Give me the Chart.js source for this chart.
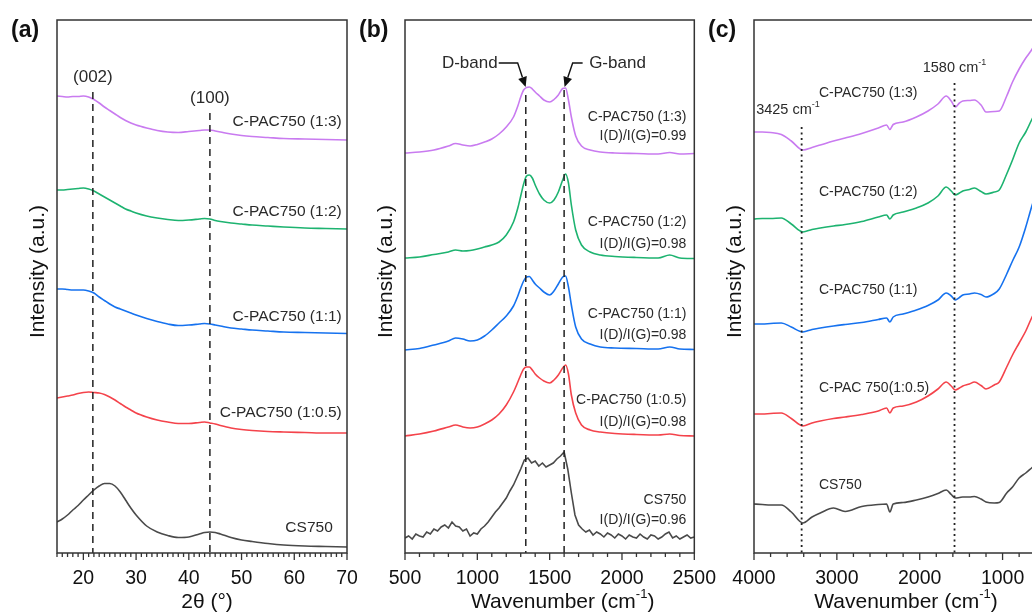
<!DOCTYPE html>
<html>
<head>
<meta charset="utf-8">
<script src="https://cdn.jsdelivr.net/npm/chart.js@4.4.1/dist/chart.umd.min.js"></script>
<style>
  html, body { margin: 0; padding: 0; background: #fff; overflow: hidden; }
  #wrap { position: relative; width: 1032px; height: 615px; overflow: hidden; }
  .panel { position: absolute; top: 0; width: 380px; height: 615px; }
</style>
</head>
<body>
<div id="wrap">
  <div class="panel" style="left:0"><canvas id="xrdChart"></canvas></div>
  <div class="panel" style="left:350px"><canvas id="ramanChart"></canvas></div>
  <div class="panel" style="left:700px"><canvas id="ftirChart"></canvas></div>
</div>
<script>
// ---- data (intensity in arbitrary units) ----
const sampleNames = ['C-PAC750 (1:3)', 'C-PAC750 (1:2)', 'C-PAC750 (1:1)', 'C-PAC750 (1:0.5)', 'CS750'];
const ftirNames = ['C-PAC750 (1:3)', 'C-PAC750 (1:2)', 'C-PAC750 (1:1)', 'C-PAC 750(1:0.5)', 'CS750'];
const ramanRatios = ['0.99', '0.98', '0.98', '0.98', '0.96'];

// (a) XRD
const xrdAngle = [15, 16, 17, 18, 19, 20, 21, 22, 23, 24, 25, 26, 27, 28, 29, 30, 32, 34, 36, 38, 40, 42, 43, 44, 45, 46, 48, 50, 52, 55, 58, 62, 66, 70];
const xrd13 = [457, 456.5, 456, 456.5, 456.5, 457, 456, 453.5, 450, 446, 442.5, 439, 435.5, 432.5, 430, 428, 425, 422.5, 421, 420.5, 421.5, 422.5, 423, 423, 422, 421, 419, 417.5, 416.5, 415.5, 414.5, 414, 413.5, 413];
const xrd12 = [363, 363, 363.5, 364, 364.5, 365, 364, 362, 359, 356, 353, 350, 347, 344, 342, 340, 337, 335, 333.5, 332.5, 333, 334, 334.5, 334, 332.5, 331.5, 330, 329, 328, 327, 326, 325, 324.5, 324];
const xrd11 = [264, 264, 263.5, 263, 263, 263, 262, 260, 256, 252.5, 249, 246, 244, 242, 240, 238, 234.5, 231.5, 229, 227.5, 228, 229, 229.5, 229, 228, 227, 225, 224, 223, 222, 221, 220.5, 220, 219.5];
const xrd105 = [155, 156, 157, 158, 159.5, 160.5, 161, 160.5, 160, 158.5, 156, 153, 149.5, 146, 143, 140, 136, 133, 131, 129.5, 129.5, 130.5, 131, 130, 129, 127.5, 125, 123.5, 122.5, 121.5, 121, 120.5, 120, 120];
const xrdCS = [31, 34, 38, 43, 47.5, 53, 58, 63, 67, 69.5, 69.5, 67, 61, 53, 45, 38, 27, 21, 17.5, 15.5, 16, 19, 20.5, 21, 20.5, 19, 15.5, 13, 11.5, 9.5, 8, 7, 6.5, 6];
const xrdTicks = [20, 30, 40, 50, 60, 70];

// (b) Raman
const ramanShift = [500, 600, 700, 800, 850, 900, 950, 1000, 1050, 1100, 1150, 1200, 1250, 1280, 1300, 1320, 1340, 1360, 1380, 1400, 1430, 1460, 1500, 1530, 1560, 1590, 1610, 1630, 1650, 1680, 1720, 1780, 1850, 1950, 2100, 2250, 2330, 2400, 2500];
const raman13 = [400, 401, 403, 407, 409.5, 408, 407, 408.5, 411, 414, 419, 426, 436, 447, 456, 463, 465.5, 466, 464, 461, 457, 453, 451, 453.5, 458, 464.5, 465, 453, 436, 417, 407, 403, 401, 400, 399.5, 399, 400.5, 399, 399.5];
const raman12 = [295, 296, 298.5, 301, 303, 302, 302.5, 304, 306, 308, 311, 318, 331, 345, 357, 369, 377, 378, 375, 368, 359, 353, 350, 353, 361, 373, 379, 370, 348, 323, 308, 301, 298, 296.5, 295.5, 295, 298, 295, 294.5];
const raman11 = [203, 204.5, 208, 212, 215, 214, 212, 213, 217, 223, 230, 237, 247, 257, 265, 272, 276, 276.5, 273, 269, 265, 261, 258, 262, 269, 276, 277, 266, 248, 226, 214, 209, 206, 205, 204.5, 204, 206, 204, 203.5];
const raman105 = [117, 119, 122, 126, 128, 126, 125, 126, 129, 133, 139, 148, 161, 171, 178, 184, 186, 186, 183, 179, 175, 172, 170, 173, 178, 185, 188, 179, 158, 140, 128, 123, 121, 119.5, 118.5, 118, 119, 117.5, 117];
const ramanShiftCS = [500, 525, 550, 575, 600, 625, 650, 675, 700, 725, 750, 775, 800, 825, 850, 875, 900, 925, 950, 975,
  1000, 1025, 1050, 1075, 1100, 1125, 1150, 1175, 1200, 1225, 1250, 1275, 1300, 1325, 1350, 1375, 1400, 1425, 1450, 1475,
  1500, 1525, 1550, 1575, 1600, 1625, 1650, 1675, 1700, 1725, 1750, 1775, 1800, 1825, 1850, 1875, 1900, 1925, 1950, 1975,
  2000, 2025, 2050, 2075, 2100, 2125, 2150, 2175, 2200, 2225, 2250, 2275, 2300, 2325, 2350, 2375, 2400, 2425, 2450, 2475, 2500];
const ramanCS = [15, 17, 14, 19, 17, 16, 21, 19, 24, 22, 26, 28, 25, 31, 27, 26, 22, 24, 17, 20,
  19, 24, 27, 31, 36, 41, 45, 50, 55, 62, 68, 76, 84, 93, 95, 90, 92, 87, 90, 86,
  88, 90, 94, 97, 101, 84, 60, 38, 28, 24, 21, 23, 18, 21, 19, 16, 20, 18, 15, 19,
  17, 14, 18, 16, 15, 19, 16, 14, 18, 17, 14, 16, 19, 21, 15, 17, 14, 16, 18, 15, 16];
const ramanTicks = [500, 1000, 1500, 2000, 2500];

// (c) FTIR
const ftirWave = [4000, 3900, 3800, 3670, 3550, 3410, 3300, 3200, 3040, 2900, 2700, 2500, 2400, 2360, 2320, 2200, 2040, 1900, 1780, 1680, 1620, 1570, 1520, 1480, 1400, 1340, 1260, 1200, 1100, 1040, 950, 880, 800, 720, 650, 580, 500];
const ftir13 = [421, 421, 420.5, 418.5, 412, 403, 405.5, 408, 412, 415, 419.5, 425, 428, 423.5, 428.5, 431, 436, 442, 449, 457, 452, 446, 450, 452, 452.5, 453, 448, 441, 441.5, 442, 457, 471, 484, 495, 503, 513, 523];
const ftir12 = [334, 334.5, 334.5, 335, 329, 321, 323.5, 325, 327, 328.5, 331.5, 336, 338, 334, 338, 341, 345, 350, 357, 366, 362, 358, 360, 362, 363.5, 365, 361.5, 359, 361, 363, 379, 393, 410, 421, 433, 444, 455];
const ftir11 = [229, 229, 229.5, 230, 226, 221, 223.5, 225, 227, 228.5, 230.5, 233.5, 235, 231, 236, 239, 243, 247.5, 253, 260, 257, 253, 255.5, 258, 259, 260, 258.5, 256, 259.5, 264, 279, 292, 306, 326, 346, 364, 384];
const ftir105 = [139, 139, 139.5, 140, 134.5, 127, 130, 132, 134.5, 136, 138.5, 142, 145, 140, 145, 147, 151, 157, 164, 171, 167, 163, 165, 167, 169, 171, 167.5, 164, 168, 171, 186, 198, 210, 222, 235, 246, 258];
const ftirCS = [49, 48.5, 48, 48, 41, 30, 36, 40, 45, 41.5, 46.5, 48.5, 49, 41, 49, 50.5, 53, 56, 59.5, 63, 58.5, 55, 55.5, 56, 56, 56.5, 54, 51, 50, 50.5, 60, 66, 75, 80, 85, 90, 96];
const ftirTicks = [4000, 3000, 2000, 1000];

// ---- styling ----
const FONT = '"Liberation Sans", Arial, Helvetica, sans-serif';
const COLORS = ['#c97bf0', '#1db370', '#1672ef', '#f4434b', '#4a4a4a'];
Chart.defaults.font.family = FONT;
Chart.defaults.animation = false;

function pts(xs, ys) {
    return xs.map((x, i) => ({ x: x, y: ys[i] }));
}

function drawRich(ctx, parts, x, y, align, size) {
    // parts starting with '^' are drawn as superscript
    const segs = parts.map(p => p.startsWith('^')
        ? { t: p.slice(1), s: size * 0.62, up: size * 0.36 }
        : { t: p, s: size, up: 0 });
    let total = 0;
    segs.forEach(g => { ctx.font = g.s + 'px ' + FONT; g.w = ctx.measureText(g.t).width; total += g.w; });
    let cx = align === 'center' ? x - total / 2 : align === 'right' ? x - total : x;
    ctx.textAlign = 'left';
    ctx.textBaseline = 'middle';
    segs.forEach(g => { ctx.font = g.s + 'px ' + FONT; ctx.fillText(g.t, cx, y - g.up); cx += g.w; });
}

const decor = {
    id: 'decor',
    afterDatasetsDraw(chart, args, o) {
        const { ctx, chartArea: a } = chart;
        const x = chart.scales.x, y = chart.scales.y;
        ctx.save();

        // guide lines
        (o.guides || []).forEach(g => {
            const px = x.getPixelForValue(g.x);
            ctx.beginPath();
            ctx.setLineDash(g.dash);
            ctx.lineWidth = g.width;
            ctx.strokeStyle = '#222';
            ctx.moveTo(px, y.getPixelForValue(g.top));
            ctx.lineTo(px, a.bottom);
            ctx.stroke();
        });
        ctx.setLineDash([]);

        // arrows
        (o.arrows || []).forEach(ar => {
            const p = ar.map(q => [x.getPixelForValue(q[0]), y.getPixelForValue(q[1])]);
            ctx.beginPath();
            ctx.lineWidth = 1.4;
            ctx.strokeStyle = '#111';
            ctx.moveTo(p[0][0], p[0][1]);
            for (let i = 1; i < p.length - 1; i++) ctx.lineTo(p[i][0], p[i][1]);
            const end = p[p.length - 1], prev = p[p.length - 2];
            const ang = Math.atan2(end[1] - prev[1], end[0] - prev[0]);
            const bx = end[0] - 10 * Math.cos(ang), by = end[1] - 10 * Math.sin(ang);
            ctx.lineTo(bx, by);
            ctx.stroke();
            ctx.beginPath();
            ctx.fillStyle = '#111';
            ctx.moveTo(end[0], end[1]);
            ctx.lineTo(bx + 4.5 * Math.sin(ang), by - 4.5 * Math.cos(ang));
            ctx.lineTo(bx - 4.5 * Math.sin(ang), by + 4.5 * Math.cos(ang));
            ctx.closePath();
            ctx.fill();
        });

        // frame
        ctx.lineWidth = 1.5;
        ctx.strokeStyle = '#333';
        ctx.strokeRect(a.left, a.top, a.right - a.left, a.bottom - a.top);

        // major + minor ticks
        const lo = Math.min(x.min, x.max), hi = Math.max(x.min, x.max);
        const start = Math.ceil(lo / o.minorStep) * o.minorStep;
        ctx.lineWidth = 1.3;
        for (let v = start; v <= hi + 1e-6; v += o.minorStep) {
            const px = x.getPixelForValue(v);
            const major = o.majorTicks.some(m => Math.abs(m - v) < 1e-6);
            ctx.beginPath();
            ctx.moveTo(px, a.bottom);
            ctx.lineTo(px, a.bottom + (major ? 7 : 4));
            ctx.stroke();
        }

        // notes inside the plot
        ctx.fillStyle = '#2a2a2a';
        (o.notes || []).forEach(n => drawRich(ctx, n.parts, x.getPixelForValue(n.x), y.getPixelForValue(n.y), n.align, n.size));

        // axis titles
        ctx.fillStyle = '#111';
        drawRich(ctx, o.xTitle, (a.left + a.right) / 2 + o.xTitleShift, 602, 'center', 21);
        ctx.save();
        ctx.translate(a.left - 19, (a.top + a.bottom) / 2 - 15);
        ctx.rotate(-Math.PI / 2);
        drawRich(ctx, ['Intensity (a.u.)'], 0, 0, 'center', 21);
        ctx.restore();

        // panel letter
        ctx.font = 'bold 23px ' + FONT;
        ctx.textAlign = 'left';
        ctx.textBaseline = 'middle';
        ctx.fillText(o.panel, a.left - 46, 31);
        ctx.restore();
    }
};

function makeChart(id, datasets, xOpts, padLeft, padRight, decorOpts) {
    return new Chart(document.getElementById(id), {
        type: 'line',
        data: { datasets: datasets },
        options: {
            responsive: true,
            maintainAspectRatio: false,
            devicePixelRatio: 1,
            layout: { padding: { left: padLeft, right: padRight, top: 20, bottom: 0 } },
            plugins: { legend: { display: false }, tooltip: { enabled: false }, decor: decorOpts },
            elements: { point: { radius: 0 } },
            scales: {
                x: Object.assign({
                    type: 'linear',
                    afterFit: s => { s.height = 62; },
                    grid: { display: false, drawTicks: false },
                    border: { display: false },
                    ticks: { padding: 14, color: '#111', font: { size: 19.5 }, maxRotation: 0, autoSkip: false, callback: v => String(v) }
                }, xOpts),
                y: { display: false, min: 0, max: 533 }
            }
        },
        plugins: [decor]
    });
}

function series(xs, ysList, smooth) {
    return ysList.map((ys, i) => ({
        data: pts(xs, ys),
        borderColor: COLORS[i],
        borderWidth: 1.6,
        cubicInterpolationMode: smooth ? 'monotone' : 'default',
        tension: 0
    }));
}

// (a) XRD
makeChart('xrdChart', series(xrdAngle, [xrd13, xrd12, xrd11, xrd105, xrdCS], true), {
    min: 15, max: 70,
    afterBuildTicks: s => { s.ticks = xrdTicks.map(v => ({ value: v })); }
}, 57, 33, {
    panel: '(a)', minorStep: 1, majorTicks: xrdTicks, xTitle: ['2\u03b8 (\u00b0)'], xTitleShift: 5,
    guides: [{ x: 21.8, top: 461, dash: [7, 5], width: 1.5 }, { x: 44, top: 440, dash: [7, 5], width: 1.5 }],
    notes: [
        { parts: ['(002)'], x: 21.8, y: 476, align: 'center', size: 17 },
        { parts: ['(100)'], x: 44, y: 455, align: 'center', size: 17 },
        { parts: [sampleNames[0]], x: 69, y: 431, align: 'right', size: 15.5 },
        { parts: [sampleNames[1]], x: 69, y: 341, align: 'right', size: 15.5 },
        { parts: [sampleNames[2]], x: 69, y: 236, align: 'right', size: 15.5 },
        { parts: [sampleNames[3]], x: 69, y: 140, align: 'right', size: 15.5 },
        { parts: [sampleNames[4]], x: 67.3, y: 25, align: 'right', size: 15.5 }
    ]
});

// (b) Raman
const ramanSets = series(ramanShift, [raman13, raman12, raman11, raman105], true);
ramanSets.push({ data: pts(ramanShiftCS, ramanCS), borderColor: COLORS[4], borderWidth: 1.6, tension: 0 });
const ramanNameY = [436, 331, 239, 153, 53];
const ramanRatioY = [417, 309, 218, 131, 33];
const ramanNotes = [
    { parts: ['D-band'], x: 948, y: 490, align: 'center', size: 17 },
    { parts: ['G-band'], x: 1969, y: 490, align: 'center', size: 17 }
];
sampleNames.forEach((n, i) => {
    ramanNotes.push({ parts: [n], x: 2445, y: ramanNameY[i], align: 'right', size: 14 });
    ramanNotes.push({ parts: ['I(D)/I(G)=' + ramanRatios[i]], x: 2445, y: ramanRatioY[i], align: 'right', size: 14 });
});
makeChart('ramanChart', ramanSets, {
    min: 500, max: 2500,
    afterBuildTicks: s => { s.ticks = ramanTicks.map(v => ({ value: v })); }
}, 55, 35, {
    panel: '(b)', minorStep: 100, majorTicks: ramanTicks, xTitle: ['Wavenumber (cm', '^-1', ')'], xTitleShift: 13,
    guides: [{ x: 1335, top: 458, dash: [7, 5], width: 1.5 }, { x: 1600, top: 463, dash: [7, 5], width: 1.5 }],
    arrows: [
        [[1148, 490], [1279, 490], [1334, 466]],
        [[1728, 490], [1659, 490], [1603, 466]]
    ],
    notes: ramanNotes
});

// (c) FTIR
const ftirNameY = [460, 361, 263, 165, 68];
const ftirNotes = [
    { parts: ['1580 cm', '^-1'], x: 1580, y: 485, align: 'center', size: 14.5 },
    { parts: ['3425 cm', '^-1'], x: 3590, y: 443, align: 'center', size: 14.5 }
];
ftirNames.forEach((n, i) => ftirNotes.push({ parts: [n], x: 3217, y: ftirNameY[i], align: 'left', size: 14 }));
makeChart('ftirChart', series(ftirWave, [ftir13, ftir12, ftir11, ftir105, ftirCS], true), {
    min: 500, max: 4000, reverse: true,
    afterBuildTicks: s => { s.ticks = ftirTicks.map(v => ({ value: v })); }
}, 54, 36, {
    panel: '(c)', minorStep: 200, majorTicks: ftirTicks, xTitle: ['Wavenumber (cm', '^-1', ')'], xTitleShift: 7,
    guides: [{ x: 3425, top: 426, dash: [2, 3.5], width: 1.8 }, { x: 1580, top: 470, dash: [2, 3.5], width: 1.8 }],
    notes: ftirNotes
});
</script>
</body>
</html>
